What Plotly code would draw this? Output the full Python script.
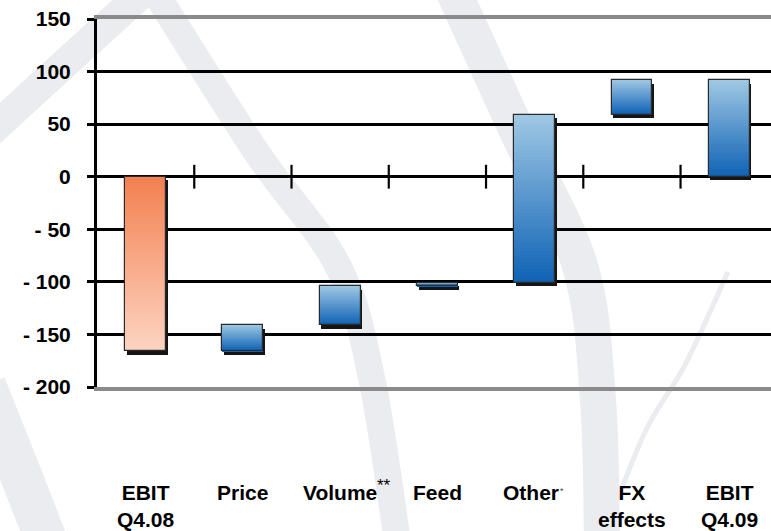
import plotly.graph_objects as go

# ---------------------------------------------------------------- data
categories = ["EBIT<br>Q4.08", "Price", "Volume", "Feed", "Other", "FX<br>effects", "EBIT<br>Q4.09"]
label_notes = ["", "", "**", "", "*", "", ""]
ebit_start = -166                      # EBIT Q4.08
bridge_steps = [25, 37, 3, 160, 33]    # Price, Volume, Feed, Other, FX effects
ebit_end = 92                          # EBIT Q4.09
y_ticks = [-200, -150, -100, -50, 0, 50, 100, 150]
y_tick_labels = ["- 200", "- 150", "- 100", "- 50", "0", "50", "100", "150"]

# ------------------------------------------------------- bar extents
lows, highs = [min(ebit_start, 0)], [max(ebit_start, 0)]
level = ebit_start
for step in bridge_steps:
    new_level = level + step
    lows.append(min(level, new_level))
    highs.append(max(level, new_level))
    level = new_level
lows.append(min(0, ebit_end))
highs.append(max(0, ebit_end))

xs = list(range(len(categories)))
BAR_W = 0.42
ORANGE = ((244, 128, 80), (252, 212, 194))   # top colour, bottom colour
BLUE = ((160, 200, 229), (14, 98, 180))
palettes = [ORANGE] + [BLUE] * (len(categories) - 1)


def mix(c0, c1, t):
    return "rgb({},{},{})".format(*[round(a + (b - a) * t) for a, b in zip(c0, c1)])


fig = go.Figure()

# drop shadow (offset right/down) behind every bar
fig.add_trace(go.Bar(
    x=xs, base=[lo - 3.4 for lo in lows], y=[hi - lo for lo, hi in zip(lows, highs)],
    width=BAR_W, offset=-BAR_W / 2 + 0.016,
    marker=dict(color="#151515", line=dict(width=0)), hoverinfo="skip"))

# vertical colour gradient, built from thin stacked slices of each bar
N_SLICES = 48
for k in range(N_SLICES):
    bases, heights, colors = [], [], []
    for lo, hi, pal in zip(lows, highs, palettes):
        span = hi - lo
        top = hi - span * k / N_SLICES
        bot = hi - span * (k + 1) / N_SLICES
        overlap = 0 if k == N_SLICES - 1 else span / N_SLICES * 0.6
        bases.append(bot - overlap)
        heights.append(top - bot + overlap)
        colors.append(mix(pal[0], pal[1], (k + 0.5) / N_SLICES))
    fig.add_trace(go.Bar(
        x=xs, base=bases, y=heights, width=BAR_W, offset=-BAR_W / 2,
        marker=dict(color=colors, line=dict(width=0)), hoverinfo="skip"))

# thin outline of each bar
fig.add_trace(go.Bar(
    x=xs, base=lows, y=[hi - lo for lo, hi in zip(lows, highs)],
    width=BAR_W, offset=-BAR_W / 2,
    marker=dict(color="rgba(0,0,0,0)", line=dict(color="#2b2b2b", width=1.2)),
    hoverinfo="skip"))

# category separators on the zero line
fig.add_trace(go.Scatter(
    x=[i + 0.5 for i in xs[:-1]], y=[0] * (len(xs) - 1), mode="markers",
    marker=dict(symbol="line-ns", size=17, line=dict(color="black", width=2.2)),
    hoverinfo="skip", cliponaxis=False))

# ------------------------------------------------- background swirl
PL, PW, PB, PH = 97, 674, 387, 368   # plot-area pixel frame


def to_paper(pt):
    x, y = pt
    return (x - PL) / PW, (PB - y) / PH


def spline_path(points):
    pts = [to_paper(p) for p in points]
    ext = [pts[0]] + pts + [pts[-1]]
    d = "M {:.4f},{:.4f}".format(*pts[0])
    for i in range(1, len(ext) - 2):
        p0, p1, p2, p3 = ext[i - 1], ext[i], ext[i + 1], ext[i + 2]
        c1 = (p1[0] + (p2[0] - p0[0]) / 6, p1[1] + (p2[1] - p0[1]) / 6)
        c2 = (p2[0] - (p3[0] - p1[0]) / 6, p2[1] - (p3[1] - p1[1]) / 6)
        d += " C {:.4f},{:.4f} {:.4f},{:.4f} {:.4f},{:.4f}".format(*c1, *c2, *p2)
    return d


swirl = [
    ([(-25, 146), (60, 68), (150, -14)], 30),
    ([(150, -16), (255, 150), (338, 266), (372, 380), (398, 545)], 27),
    ([(452, -12), (518, 133), (580, 266), (598, 400), (602, 545)], 36),
    ([(728, 272), (685, 365), (645, 432), (600, 545)], 5),
    ([(-15, 385), (22, 478), (48, 545)], 42),
]
shapes = [dict(type="path", xref="paper", yref="paper", path=spline_path(p), layer="below",
               line=dict(color="#ebecef", width=w), fillcolor="rgba(0,0,0,0)")
          for p, w in swirl]

# ------------------------------------------------- category labels
LABEL_FONT = dict(family="Liberation Sans, Arial, sans-serif", size=21, color="black", weight="bold")
annotations = []
for i, (name, note) in enumerate(zip(categories, label_notes)):
    shift = -4 if note == "*" else 0
    annotations.append(dict(x=i, y=0, xref="x", yref="paper", text=name, showarrow=False,
                            xanchor="center", yanchor="top", yshift=-92, xshift=shift,
                            font=LABEL_FONT, align="center"))
    if note == "**":
        annotations.append(dict(x=i, y=0, xref="x", yref="paper", text=note, showarrow=False,
                                xanchor="left", yanchor="top", yshift=-87, xshift=35,
                                font=dict(family="Liberation Sans, Arial, sans-serif", size=17, color="black")))
    elif note == "*":
        annotations.append(dict(x=i, y=0, xref="x", yref="paper", text=note, showarrow=False,
                                xanchor="left", yanchor="top", yshift=-97, xshift=23,
                                font=dict(family="Liberation Sans, Arial, sans-serif", size=9, color="#444")))

fig.update_layout(
    width=771, height=531,
    margin=dict(l=PL, r=0, t=19, b=531 - PB, pad=0),
    barmode="overlay", bargap=0, showlegend=False,
    paper_bgcolor="white", plot_bgcolor="rgba(0,0,0,0)",
    shapes=shapes, annotations=annotations,
    xaxis=dict(range=[-0.5, 6.43], showgrid=False, zeroline=False, showticklabels=False,
               ticks="", showline=True, linecolor="#8a8a8a", linewidth=4, mirror=True,
               automargin=False, fixedrange=True),
    yaxis=dict(range=[-200, 150], tickvals=y_ticks, ticktext=y_tick_labels,
               showgrid=True, gridcolor="black", gridwidth=3,
               zeroline=True, zerolinecolor="black", zerolinewidth=3,
               showline=True, linecolor="black", linewidth=3,
               ticks="outside", ticklen=7, tickwidth=3, tickcolor="black",
               ticklabelstandoff=12,
               tickfont=dict(family="Liberation Sans, Arial, sans-serif", size=21,
                             color="black", weight="bold"),
               automargin=False, fixedrange=True),
)

fig.write_html("out.html")
